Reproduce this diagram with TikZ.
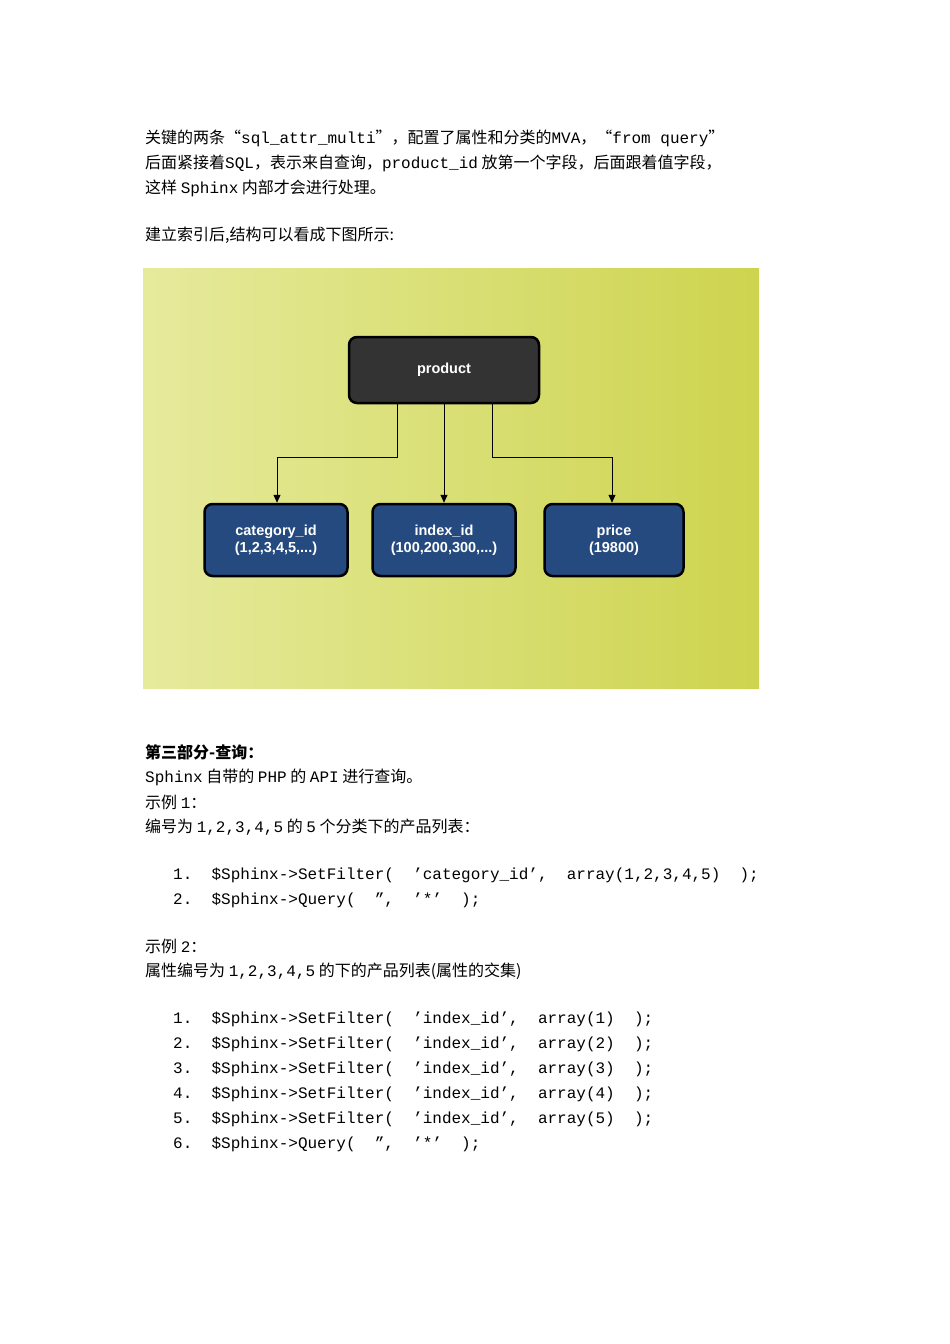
\documentclass[tikz,border=0pt]{standalone}
\usepackage{fontspec}
\setmainfont{Noto Sans CJK SC}
\setmonofont{Liberation Mono}
\setsansfont{Liberation Sans}
\usetikzlibrary{arrows.meta}
\definecolor{darkbox}{HTML}{333333}
\definecolor{bluebox}{HTML}{244A7F}
\definecolor{bgL}{HTML}{E6EA9C}
\definecolor{bgR}{HTML}{CDD44E}
\begin{document}
\begin{tikzpicture}[x=1pt,y=-1pt,
  txt/.style={anchor=west,inner sep=0pt,font=\fontsize{16}{20}\selectfont},
  dnode/.style={draw=black,line width=2.5pt,rounded corners=8pt,text=white,align=center,font=\sffamily\bfseries\fontsize{14.5}{17}\selectfont},
  conn/.style={draw=black,line width=1pt,-{Triangle[length=8pt,width=7pt]}}]
\useasboundingbox (0,0) rectangle (950,1344);
\fill[white] (0,0) rectangle (950,1344);
% text
\node[txt] (t1) at (145,138) {关键的两条“\texttt{sql\_attr\_multi}”，配置了属性和分类的\texttt{MVA}，“\texttt{from query}”};
\node[txt] (t2) at (145,163) {后面紧接着\texttt{SQL}，表示来自查询，\texttt{product\_id} 放第一个字段，后面跟着值字段，};
\node[txt] (t3) at (145,188) {这样 \texttt{Sphinx} 内部才会进行处理。};
\node[txt] (t4) at (145,235) {建立索引后,结构可以看成下图所示:};
% diagram
\shade[left color=bgL,right color=bgR] (143,268) rectangle (759,688);
\node[dnode,fill=darkbox,minimum width=190pt,minimum height=66pt] (p) at (444,370) {product};
\node[dnode,fill=bluebox,minimum width=143pt,minimum height=72pt] (c) at (276,540) {category\_id\\(1,2,3,4,5,...)};
\node[dnode,fill=bluebox,minimum width=143pt,minimum height=72pt] (i) at (444,540) {index\_id\\(100,200,300,...)};
\node[dnode,fill=bluebox,minimum width=139pt,minimum height=72pt] (r) at (614,540) {price\\(19800)};
\draw[conn] (p.south -| 397,0) |- (277,457) -- (c.north -| 277,0);
\draw[conn] (p.south) -- (i.north);
\draw[conn] (p.south -| 492,0) |- (612,457) -- (r.north -| 612,0);
% part 3
\node[txt,font=\bfseries\fontsize{16}{20}\selectfont] (h) at (145,752) {第三部分-查询：};
\node[txt] (s1) at (145,777) {\texttt{Sphinx} 自带的 \texttt{PHP} 的 \texttt{API} 进行查询。};
\node[txt] (s2) at (145,802) {示例 \texttt{1}：};
\node[txt] (s3) at (145,827) {编号为 \texttt{1,2,3,4,5} 的 \texttt{5} 个分类下的产品列表：};
\node[txt] (a1) at (173,875) {\texttt{1.\ \ \$Sphinx->SetFilter(\ \ ’category\_id’,\ \ array(1,2,3,4,5)\ \ );}};
\node[txt] (a2) at (173,900) {\texttt{2.\ \ \$Sphinx->Query(\ \ ”,\ \ ’*’\ \ );}};
\node[txt] (s4) at (145,946) {示例 \texttt{2}：};
\node[txt] (s5) at (145,971) {属性编号为 \texttt{1,2,3,4,5} 的下的产品列表(属性的交集)};
\foreach \k in {1,...,5}{
  \node[txt] (b\k) at (173,994+25*\k) {\texttt{\k.\ \ \$Sphinx->SetFilter(\ \ ’index\_id’,\ \ array(\k)\ \ );}};
}
\node[txt] (b6) at (173,1144) {\texttt{6.\ \ \$Sphinx->Query(\ \ ”,\ \ ’*’\ \ );}};
\end{tikzpicture}
\end{document}
